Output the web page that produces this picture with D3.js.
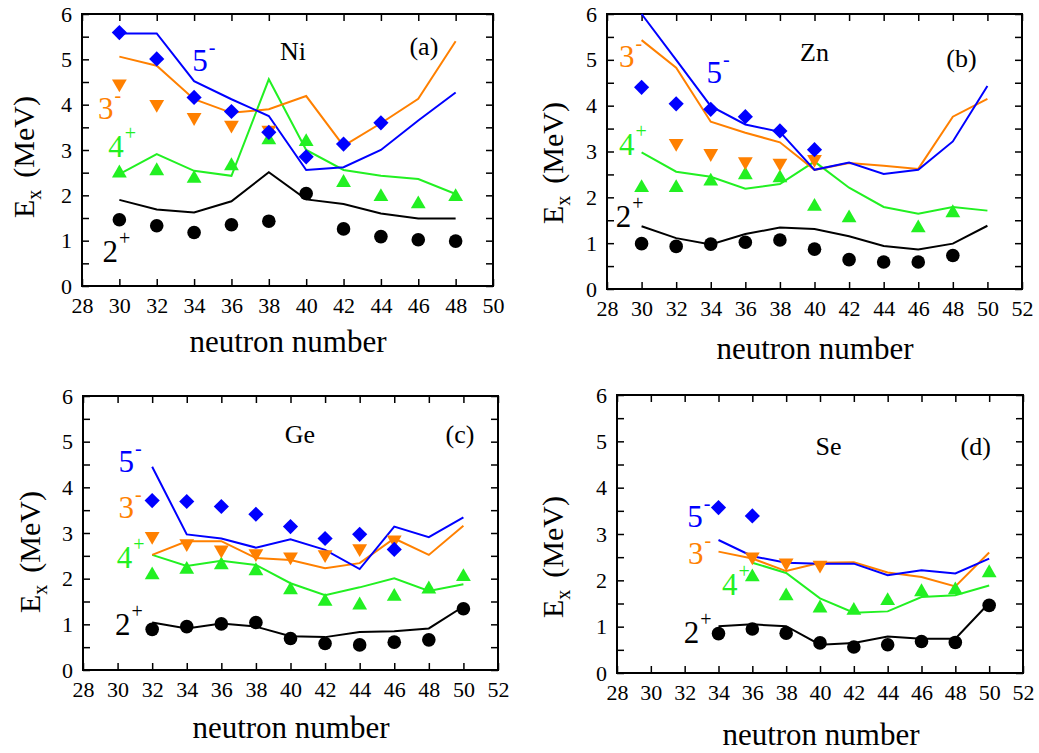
<!DOCTYPE html>
<html>
<head>
<meta charset="utf-8">
<script src="https://cdn.jsdelivr.net/npm/d3@7"></script>
<style>
  body { margin: 0; background: #fff; }
</style>
</head>
<body>
<svg id="chart" width="1039" height="753" font-family="Liberation Serif"></svg>
<script>
// ---- data (E_x in MeV; exp = symbols, th = lines) ----
const niN = [30, 32, 34, 36, 38, 40, 42, 44, 46, 48];
const ni2Exp = [1.46, 1.33, 1.18, 1.35, 1.43, 2.04, 1.26, 1.09, 1.02, 0.99];
const ni2Th = [1.90, 1.69, 1.62, 1.87, 2.51, 1.91, 1.81, 1.60, 1.49, 1.49];
const ni4Exp = [2.49, 2.54, 2.37, 2.65, 3.22, 3.18, 2.28, 1.97, 1.81, 1.97];
const ni4Th = [2.47, 2.91, 2.54, 2.43, 4.56, 3.00, 2.56, 2.43, 2.36, 2.03];
const ni3Exp = [4.46, 4.01, 3.72, 3.55, 3.44, null, null, null, null, null];
const ni3Th = [5.06, 4.86, 4.12, 3.82, 3.90, 4.19, 3.09, 3.59, 4.13, 5.40];
const ni5Exp = [5.59, 5.01, 4.16, 3.85, 3.39, 2.85, 3.13, 3.60, null, null];
const ni5Th = [5.57, 5.57, 4.52, 4.12, 3.75, 2.56, 2.62, 3.00, 3.65, 4.27];

const znN = [30, 32, 34, 36, 38, 40, 42, 44, 46, 48, 50];
const zn2Exp = [0.99, 0.93, 0.98, 1.02, 1.07, 0.87, 0.64, 0.59, 0.59, 0.73, null];
const zn2Th = [1.37, 1.11, 0.97, 1.20, 1.34, 1.31, 1.15, 0.94, 0.86, 0.99, 1.38];
const zn4Exp = [2.21, 2.21, 2.35, 2.49, 2.42, 1.80, 1.55, null, 1.33, 1.66, null];
const zn4Th = [2.98, 2.56, 2.45, 2.19, 2.29, 2.78, 2.21, 1.79, 1.64, 1.79, 1.71];
const zn3Exp = [null, 3.18, 2.96, 2.78, 2.75, 2.83, null, null, null, null, null];
const zn3Th = [5.43, 4.83, 3.65, 3.41, 3.20, 2.60, 2.75, 2.69, 2.62, 3.76, 4.15];
const zn5Exp = [4.40, 4.04, 3.92, 3.76, 3.45, 3.04, null, null, null, null, null];
const zn5Th = [6.00, 5.00, 3.99, 3.59, 3.43, 2.60, 2.76, 2.51, 2.60, 3.22, 4.43];

const geN = [32, 34, 36, 38, 40, 42, 44, 46, 48, 50];
const ge2Exp = [0.89, 0.95, 1.01, 1.04, 0.69, 0.58, 0.55, 0.61, 0.66, 1.34];
const ge2Th = [1.04, 0.91, 1.02, 0.95, 0.74, 0.72, 0.83, 0.85, 0.91, 1.39];
const ge4Exp = [2.08, 2.20, 2.30, 2.17, 1.75, 1.50, 1.42, 1.61, 1.77, 2.04];
const ge4Th = [2.52, 2.28, 2.39, 2.30, 1.90, 1.64, 1.81, 2.01, 1.73, 1.88];
const ge3Exp = [2.93, 2.77, 2.63, 2.55, 2.48, 2.53, 2.66, 2.85, null, null];
const ge3Th = [2.52, 2.82, 2.82, 2.45, 2.41, 2.23, 2.34, 2.88, 2.52, 3.16];
const ge5Exp = [3.71, 3.69, 3.58, 3.41, 3.14, 2.88, 2.97, 2.64, null, null];
const ge5Th = [4.45, 2.97, 2.88, 2.68, 2.86, 2.63, 2.21, 3.14, 2.91, 3.34];

const seN = [34, 36, 38, 40, 42, 44, 46, 48, 50];
const se2Exp = [0.85, 0.95, 0.86, 0.65, 0.56, 0.61, 0.68, 0.66, 1.46];
const se2Th = [1.01, 1.05, 1.01, 0.61, 0.65, 0.79, 0.74, 0.74, 1.51];
const se4Exp = [null, 2.07, 1.66, 1.40, 1.35, 1.56, 1.75, 1.79, 2.16];
const se4Th = [null, 2.38, 2.16, 1.61, 1.30, 1.33, 1.64, 1.68, 1.89];
const se3Exp = [null, 2.51, 2.38, 2.33, null, null, null, null, null];
const se3Th = [2.62, 2.47, 2.20, 2.38, 2.39, 2.17, 2.07, 1.87, 2.60];
const se5Exp = [3.57, 3.39, null, null, null, null, null, null, null];
const se5Th = [2.87, 2.52, 2.38, 2.36, 2.36, 2.11, 2.22, 2.15, 2.47];

const yTicks = [0, 1, 2, 3, 4, 5, 6];
const levelNames = ["2", "4", "3", "5"];
const levelParity = ["+", "+", "-", "-"];

// ---- styles ----
const FONT = "Liberation Serif";
const colors = { "2": "#000000", "4": "#22f022", "3": "#ff8000", "5": "#0000ff" };
const svg = d3.select("#chart");

const panels = [
  { name: "Ni", tag: "(a)", n: niN, xMax: 50,
    exp: [ni2Exp, ni4Exp, ni3Exp, ni5Exp], th: [ni2Th, ni4Th, ni3Th, ni5Th],
    box: { left: 82, right: 493, top: 14, bottom: 286 },
    nameAt: [39.3, 4.99], tagAt: [46.3, 5.1],
    labelAt: { "2": [29.1, 0.53], "4": [29.4, 2.85], "3": [28.85, 3.68], "5": [33.9, 4.74] },
    ylab: [34, 157], xlab: [288, 352] },
  { name: "Zn", tag: "(b)", n: znN, xMax: 52,
    exp: [zn2Exp, zn4Exp, zn3Exp, zn5Exp], th: [zn2Th, zn4Th, zn3Th, zn5Th],
    box: { left: 607, right: 1022, top: 14, bottom: 289 },
    nameAt: [40.0, 4.98], tagAt: [48.5, 4.85],
    labelAt: { "2": [28.5, 1.36], "4": [28.7, 2.93], "3": [28.7, 4.85], "5": [33.75, 4.49] },
    ylab: [563, 163], xlab: [815, 359] },
  { name: "Ge", tag: "(c)", n: geN, xMax: 52,
    exp: [ge2Exp, ge4Exp, ge3Exp, ge5Exp], th: [ge2Th, ge4Th, ge3Th, ge5Th],
    box: { left: 83, right: 498, top: 396, bottom: 670 },
    nameAt: [40.55, 4.96], tagAt: [49.8, 4.96],
    labelAt: { "2": [29.85, 0.77], "4": [29.95, 2.23], "3": [30.05, 3.32], "5": [30.05, 4.34] },
    ylab: [40, 552], xlab: [291, 738] },
  { name: "Se", tag: "(d)", n: seN, xMax: 52,
    exp: [se2Exp, se4Exp, se3Exp, se5Exp], th: [se2Th, se4Th, se3Th, se5Th],
    box: { left: 617, right: 1023, top: 395, bottom: 673 },
    nameAt: [40.5, 4.70], tagAt: [49.2, 4.70],
    labelAt: { "2": [31.95, 0.64], "4": [34.2, 1.68], "3": [32.2, 2.36], "5": [32.15, 3.15] },
    ylab: [563, 557], xlab: [821, 745] }
];

const symbols = {
  "2": { type: d3.symbolCircle, size: 145, rot: 0 },
  "4": { type: d3.symbolTriangle, size: 95, rot: 0 },
  "3": { type: d3.symbolTriangle, size: 95, rot: 180 },
  "5": { type: d3.symbolSquare, size: 115, rot: 45 }
};

panels.forEach(drawPanel);

/**
 * Adds a plain text element with the serif font.
 */
function addText(parent, x, y, size, str) {
  return parent.append("text")
    .attr("x", x).attr("y", y)
    .attr("font-family", FONT)
    .attr("font-size", size)
    .text(str);
}

/**
 * Draws one of the four panels.
 */
function drawPanel(p) {
  var b = p.box;
  var x = d3.scaleLinear().domain([28, p.xMax]).range([b.left, b.right]);
  var y = d3.scaleLinear().domain([0, 6]).range([b.bottom, b.top]);
  var g = svg.append("g");
  var xVals = d3.range(28, p.xMax + 1, 2);
  var yVals = d3.range(0, 6.01, 0.5);

  // axes with inward ticks on all four sides
  g.append("g")
    .attr("transform", "translate(0," + b.bottom + ")")
    .call(d3.axisBottom(x).tickValues(xVals).tickSizeInner(-7).tickSizeOuter(0))
    .call(styleAxis)
    .selectAll(".tick text").attr("dy", null).attr("y", 27);
  g.append("g")
    .attr("transform", "translate(0," + b.top + ")")
    .call(d3.axisTop(x).tickValues(xVals).tickSizeInner(-7).tickSizeOuter(0).tickFormat(""))
    .call(styleAxis);
  g.append("g")
    .attr("transform", "translate(" + b.left + ",0)")
    .call(d3.axisLeft(y).tickValues(yVals).tickSizeInner(-7).tickSizeOuter(0).tickPadding(10)
      .tickFormat(function(d) { return yTicks.indexOf(d) >= 0 ? d : ""; }))
    .call(styleAxis)
    .selectAll(".tick text").attr("dy", null).attr("y", 7);
  g.append("g")
    .attr("transform", "translate(" + b.right + ",0)")
    .call(d3.axisRight(y).tickValues(yVals).tickSizeInner(-7).tickSizeOuter(0).tickFormat(""))
    .call(styleAxis);

  g.append("rect")
    .attr("x", b.left).attr("y", b.top)
    .attr("width", b.right - b.left).attr("height", b.bottom - b.top)
    .attr("fill", "none").attr("stroke", "#000").attr("stroke-width", 2);

  // theory lines
  var line = d3.line()
    .defined(function(d) { return d.v != null; })
    .x(function(d) { return x(d.n); })
    .y(function(d) { return y(d.v); });
  levelNames.forEach(function(lvl, k) {
    var pts = p.n.map(function(n, i) { return { n: n, v: p.th[k][i] }; });
    g.append("path")
      .datum(pts)
      .attr("d", line)
      .attr("fill", "none")
      .attr("stroke", colors[lvl])
      .attr("stroke-width", 2);
  });

  // experimental symbols
  levelNames.forEach(function(lvl, k) {
    var pts = p.n.map(function(n, i) { return { n: n, v: p.exp[k][i] }; })
      .filter(function(d) { return d.v != null; });
    var s = symbols[lvl];
    g.selectAll(".sym" + lvl)
      .data(pts)
      .enter().append("path")
      .attr("d", d3.symbol().type(s.type).size(s.size))
      .attr("transform", function(d) {
        return "translate(" + x(d.n) + "," + y(d.v) + ") rotate(" + s.rot + ")";
      })
      .attr("fill", colors[lvl]);
  });

  // level labels: number plus raised parity sign
  levelNames.forEach(function(lvl, k) {
    var at = p.labelAt[lvl];
    var lx = x(at[0]), ly = y(at[1]);
    var t = addText(g, lx, ly, 31, lvl).attr("fill", colors[lvl]);
    var w = t.node().getComputedTextLength();
    addText(g, lx + w + 1, ly - 17, 20, levelParity[k]).attr("fill", colors[lvl]);
  });

  addText(g, x(p.nameAt[0]), y(p.nameAt[1]), 26, p.name).attr("text-anchor", "middle");
  addText(g, x(p.tagAt[0]), y(p.tagAt[1]), 26, p.tag).attr("text-anchor", "middle");

  // axis titles
  addText(g, p.xlab[0], p.xlab[1], 31, "neutron number").attr("text-anchor", "middle");

  var yl = g.append("g")
    .attr("transform", "translate(" + p.ylab[0] + "," + p.ylab[1] + ") rotate(-90)");
  var tE = addText(yl, 0, 0, 30, "E");
  var wE = tE.node().getComputedTextLength();
  var tX = addText(yl, wE, 7, 20, "x");
  var wX = tX.node().getComputedTextLength();
  var tM = addText(yl, wE + wX + 12, 0, 30, "(MeV)");
  var wM = tM.node().getComputedTextLength();
  var shift = -(wE + wX + 12 + wM) / 2;
  tE.attr("x", shift);
  tX.attr("x", shift + wE);
  tM.attr("x", shift + wE + wX + 12);
}

function styleAxis(sel) {
  sel.attr("font-family", FONT).attr("font-size", 22);
  sel.select(".domain").remove();
  sel.selectAll(".tick line").attr("stroke", "#000").attr("stroke-width", 1.5);
  sel.selectAll(".tick text")
    .attr("fill", "#000")
    .attr("font-family", FONT)
    .attr("font-size", 22);
}
</script>
</body>
</html>
